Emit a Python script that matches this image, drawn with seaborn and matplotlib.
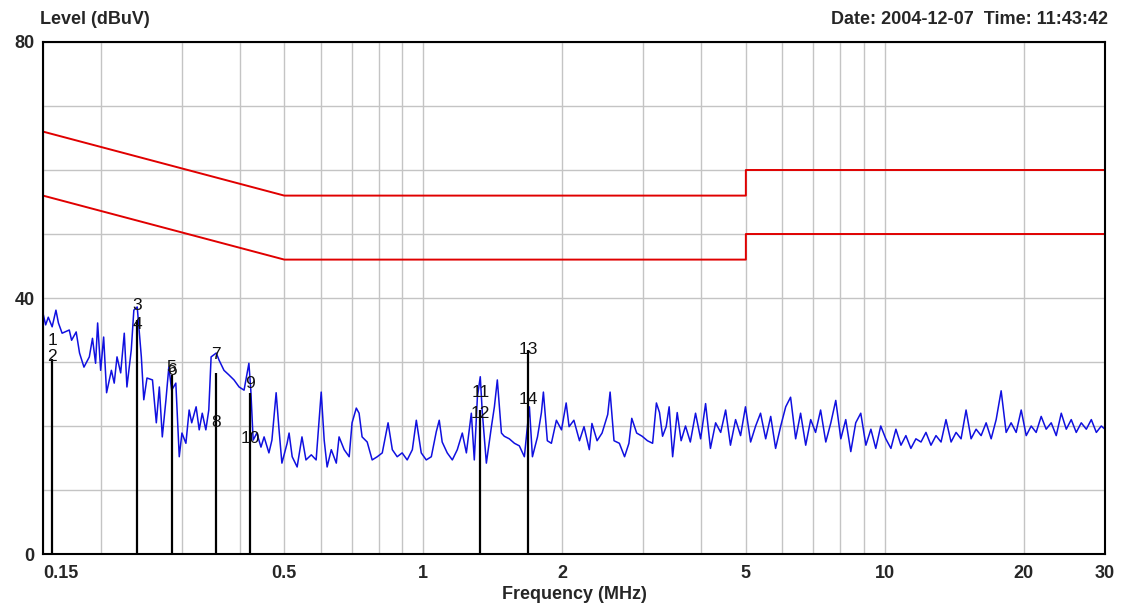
import numpy as np
import pandas as pd
import matplotlib.pyplot as plt
import seaborn as sns
from matplotlib.ticker import FixedLocator, NullFormatter

# limit lines (MHz / dBuV)
limit_freq = [0.15, 0.5, 5, 5, 30]
qp_limit = [66, 56, 56, 60, 60]
av_limit = [56, 46, 46, 50, 50]

# measured trace, split by band
freq_a = [0.150, 0.152, 0.154, 0.157, 0.160, 0.162, 0.165, 0.171, 0.173, 0.177,
          0.180, 0.184, 0.189, 0.192, 0.195, 0.197, 0.200, 0.203, 0.206, 0.211,
          0.214, 0.217, 0.221, 0.225, 0.228, 0.233, 0.236, 0.240, 0.245, 0.248,
          0.252, 0.259, 0.264, 0.268, 0.272, 0.277]
level_a = [37.6, 35.8, 37.0, 35.5, 38.1, 36.1, 34.5, 35.0, 33.4, 34.7,
           31.4, 29.2, 30.8, 33.7, 29.8, 36.1, 28.7, 33.9, 25.2, 28.7,
           26.7, 30.8, 28.3, 34.5, 26.1, 31.9, 38.1, 38.6, 30.8, 24.1,
           27.5, 27.2, 20.5, 26.1, 18.3, 24.1]

freq_b = [0.281, 0.285, 0.291, 0.296, 0.300, 0.306, 0.311, 0.315, 0.322, 0.327,
          0.332, 0.338, 0.343, 0.347, 0.356, 0.361, 0.370, 0.379, 0.389, 0.399,
          0.409, 0.419, 0.423, 0.428, 0.436, 0.445, 0.452, 0.463, 0.470, 0.480,
          0.487, 0.494, 0.507]
level_b = [29.2, 25.6, 26.7, 15.2, 18.9, 17.3, 22.5, 20.5, 23.0, 19.4,
           22.0, 19.4, 22.5, 30.8, 31.4, 30.3, 28.7, 28.0, 27.2, 26.1,
           25.6, 29.8, 25.6, 17.8, 18.9, 16.7, 18.3, 15.8, 17.8, 25.2,
           19.4, 14.2, 17.3]

freq_c = [0.512, 0.520, 0.533, 0.546, 0.557, 0.572, 0.586, 0.601, 0.610, 0.619,
          0.632, 0.648, 0.657, 0.674, 0.691, 0.701, 0.716, 0.726, 0.737, 0.756,
          0.775, 0.795, 0.815, 0.839, 0.857, 0.878, 0.900, 0.923, 0.947, 0.966,
          0.990, 1.015, 1.041, 1.067, 1.083, 1.099, 1.127, 1.156, 1.185, 1.215,
          1.240, 1.271, 1.290, 1.310, 1.329, 1.342, 1.370]
level_c = [18.9, 15.2, 13.6, 18.3, 14.7, 15.5, 14.7, 25.3, 17.8, 13.6,
           16.3, 14.2, 18.3, 16.3, 15.2, 20.5, 22.8, 22.0, 18.3, 17.5,
           14.7, 15.2, 15.8, 20.5, 16.3, 15.2, 15.8, 14.7, 16.3, 20.9,
           15.8, 14.7, 15.2, 19.1, 20.9, 17.5, 15.8, 14.7, 16.3, 18.9,
           15.8, 22.0, 14.7, 24.5, 27.7, 22.3, 14.2]

freq_d = [1.405, 1.426, 1.447, 1.477, 1.498, 1.536, 1.576, 1.615, 1.656, 1.698,
          1.724, 1.768, 1.803, 1.821, 1.857, 1.895, 1.943, 1.993, 2.04, 2.07,
          2.12, 2.18, 2.23, 2.29, 2.32, 2.38, 2.44, 2.51, 2.54, 2.59,
          2.66, 2.73, 2.79, 2.83, 2.90, 2.98, 3.06, 3.14, 3.20, 3.25,
          3.30, 3.36, 3.41, 3.47, 3.55, 3.62]
level_d = [19.9, 23.0, 27.2, 18.9, 18.4, 18.0, 17.3, 16.9, 15.2, 23.0,
           15.2, 18.3, 22.1, 25.3, 17.7, 17.3, 20.9, 19.4, 23.6, 19.9,
           20.9, 17.7, 19.9, 16.3, 20.4, 17.7, 18.9, 21.8, 25.3, 17.7,
           17.3, 15.2, 17.3, 21.2, 18.9, 18.4, 17.7, 17.3, 23.6, 22.1,
           18.4, 19.9, 23.0, 15.2, 22.1, 17.7]

freq_e = [3.70, 3.79, 3.89, 3.99, 4.09, 4.19, 4.30, 4.41, 4.52, 4.63,
          4.75, 4.87, 4.99, 5.12, 5.25, 5.38, 5.52, 5.66, 5.80, 5.95,
          6.10, 6.25, 6.41, 6.57, 6.74, 6.91, 7.08, 7.26, 7.45, 7.64,
          7.83, 8.03, 8.23, 8.44, 8.65, 8.87, 9.10, 9.33, 9.56, 9.80,
          10.05, 10.31, 10.57, 10.84, 11.11, 11.39, 11.68, 11.98, 12.28, 12.59,
          12.91, 13.24, 13.57, 13.92, 14.27, 14.63, 15.00, 15.38, 15.77, 16.17,
          16.58, 17.00, 17.43, 17.87, 18.32, 18.78, 19.26, 19.75, 20.25, 20.76,
          21.28, 21.82, 22.37, 22.94, 23.52, 24.12, 24.73, 25.35, 25.99, 26.65,
          27.33, 28.02, 28.73, 29.45, 30.00]
level_e = [20.0, 17.5, 22.0, 18.0, 23.5, 16.5, 20.5, 19.0, 22.5, 17.0,
           21.0, 18.5, 23.0, 17.5, 20.0, 22.0, 18.0, 21.5, 16.5, 20.0,
           23.0, 24.5, 18.0, 22.0, 17.0, 21.0, 19.0, 22.5, 17.5, 20.5,
           24.0, 18.0, 21.0, 16.0, 20.5, 22.0, 17.0, 19.5, 16.5, 20.0,
           18.0, 16.5, 19.5, 17.0, 18.5, 16.5, 18.0, 17.5, 19.0, 17.0,
           18.5, 17.5, 21.0, 17.5, 19.0, 18.0, 22.5, 18.0, 19.5, 18.5,
           20.5, 18.0, 21.0, 25.5, 19.0, 20.5, 19.0, 22.5, 18.5, 20.0,
           19.0, 21.5, 19.5, 20.5, 18.5, 22.0, 19.5, 21.0, 19.0, 20.5,
           19.5, 21.0, 19.0, 20.0, 19.5]

# markers: frequency, line height, quasi-peak / average readings
marker_freq = [0.157, 0.240, 0.285, 0.356, 0.421, 1.33, 1.69]
marker_top = [30.5, 36.5, 28.0, 28.3, 25.2, 22.5, 31.9]
qp_read = [33.3, 38.9, 29.1, 31.1, 26.7, 25.2, 31.9]
av_read = [30.9, 35.8, 28.6, 20.6, 18.1, 22.0, 24.1]

xtick_vals = [0.15, 0.5, 1, 2, 5, 10, 20, 30]
xtick_labels = ["0.15", "0.5", "1", "2", "5", "10", "20", "30"]
xgrid_vals = [0.2, 0.3, 0.4, 0.5, 0.6, 0.7, 0.8, 0.9, 1, 2, 3, 4, 5, 6, 7, 8, 9, 10, 20]

trace = pd.DataFrame({
    'freq': freq_a + freq_b + freq_c + freq_d + freq_e,
    'level': level_a + level_b + level_c + level_d + level_e,
})
limits = pd.DataFrame({'freq': limit_freq, 'qp': qp_limit, 'av': av_limit})

sns.set_style('white')
plt.rcParams['font.family'] = ['Liberation Sans Narrow', 'Liberation Sans', 'DejaVu Sans']

fig = plt.figure(figsize=(11.3, 6.14), dpi=100, facecolor='white')
ax = fig.add_axes([43 / 1130, 0.0977, 1062 / 1130, 0.8339])
ax.set_xscale('log')
ax.set_xlim(0.15, 30)
ax.set_ylim(0, 80)

# grid
ax.xaxis.set_minor_locator(FixedLocator(xgrid_vals))
ax.xaxis.set_minor_formatter(NullFormatter())
ax.yaxis.set_minor_locator(FixedLocator(list(range(10, 80, 10))))
ax.grid(True, which='both', color='#c4c4c4', linewidth=1.0)
ax.set_axisbelow(True)

sns.lineplot(data=limits, x='freq', y='qp', color='#e00000', linewidth=1.4,
             sort=False, estimator=None, ax=ax)
sns.lineplot(data=limits, x='freq', y='av', color='#e00000', linewidth=1.4,
             sort=False, estimator=None, ax=ax)
sns.lineplot(data=trace, x='freq', y='level', color='#1010e0', linewidth=1.1,
             sort=False, estimator=None, ax=ax)

ax.vlines(marker_freq, 0, marker_top, color='black', linewidth=1.6, zorder=4)
for i, f in enumerate(marker_freq):
    ax.text(f, qp_read[i], str(2 * i + 1), ha='center', va='center',
            fontsize=12.5, color='#111111', zorder=5)
    ax.text(f, av_read[i], str(2 * i + 2), ha='center', va='center',
            fontsize=12.5, color='#111111', zorder=5)

ax.set_xticks(xtick_vals)
ax.set_xticklabels(xtick_labels, fontsize=13, fontweight='bold')
ax.get_xticklabels()[0].set_horizontalalignment('left')
ax.set_yticks([0, 40, 80])
ax.set_yticklabels(['0', '40', '80'], fontsize=13, fontweight='bold')
ax.tick_params(axis='both', which='both', length=0)
ax.tick_params(axis='x', pad=8)
ax.tick_params(axis='y', pad=6)
ax.set_xlabel('Frequency (MHz)', fontsize=13, fontweight='bold', labelpad=3)
ax.set_ylabel('')

for s in ax.spines.values():
    s.set_visible(True)
    s.set_color('black')
    s.set_linewidth(1.5)

fig.text(40 / 1130, 1 - 20 / 614, 'Level (dBuV)', fontsize=13, fontweight='bold',
         ha='left', va='center')
fig.text(1108 / 1130, 1 - 20 / 614, 'Date: 2004-12-07  Time: 11:43:42',
         fontsize=13, fontweight='bold', ha='right', va='center')

fig.savefig('out.png', dpi=100, facecolor='white')
plt.close(fig)
